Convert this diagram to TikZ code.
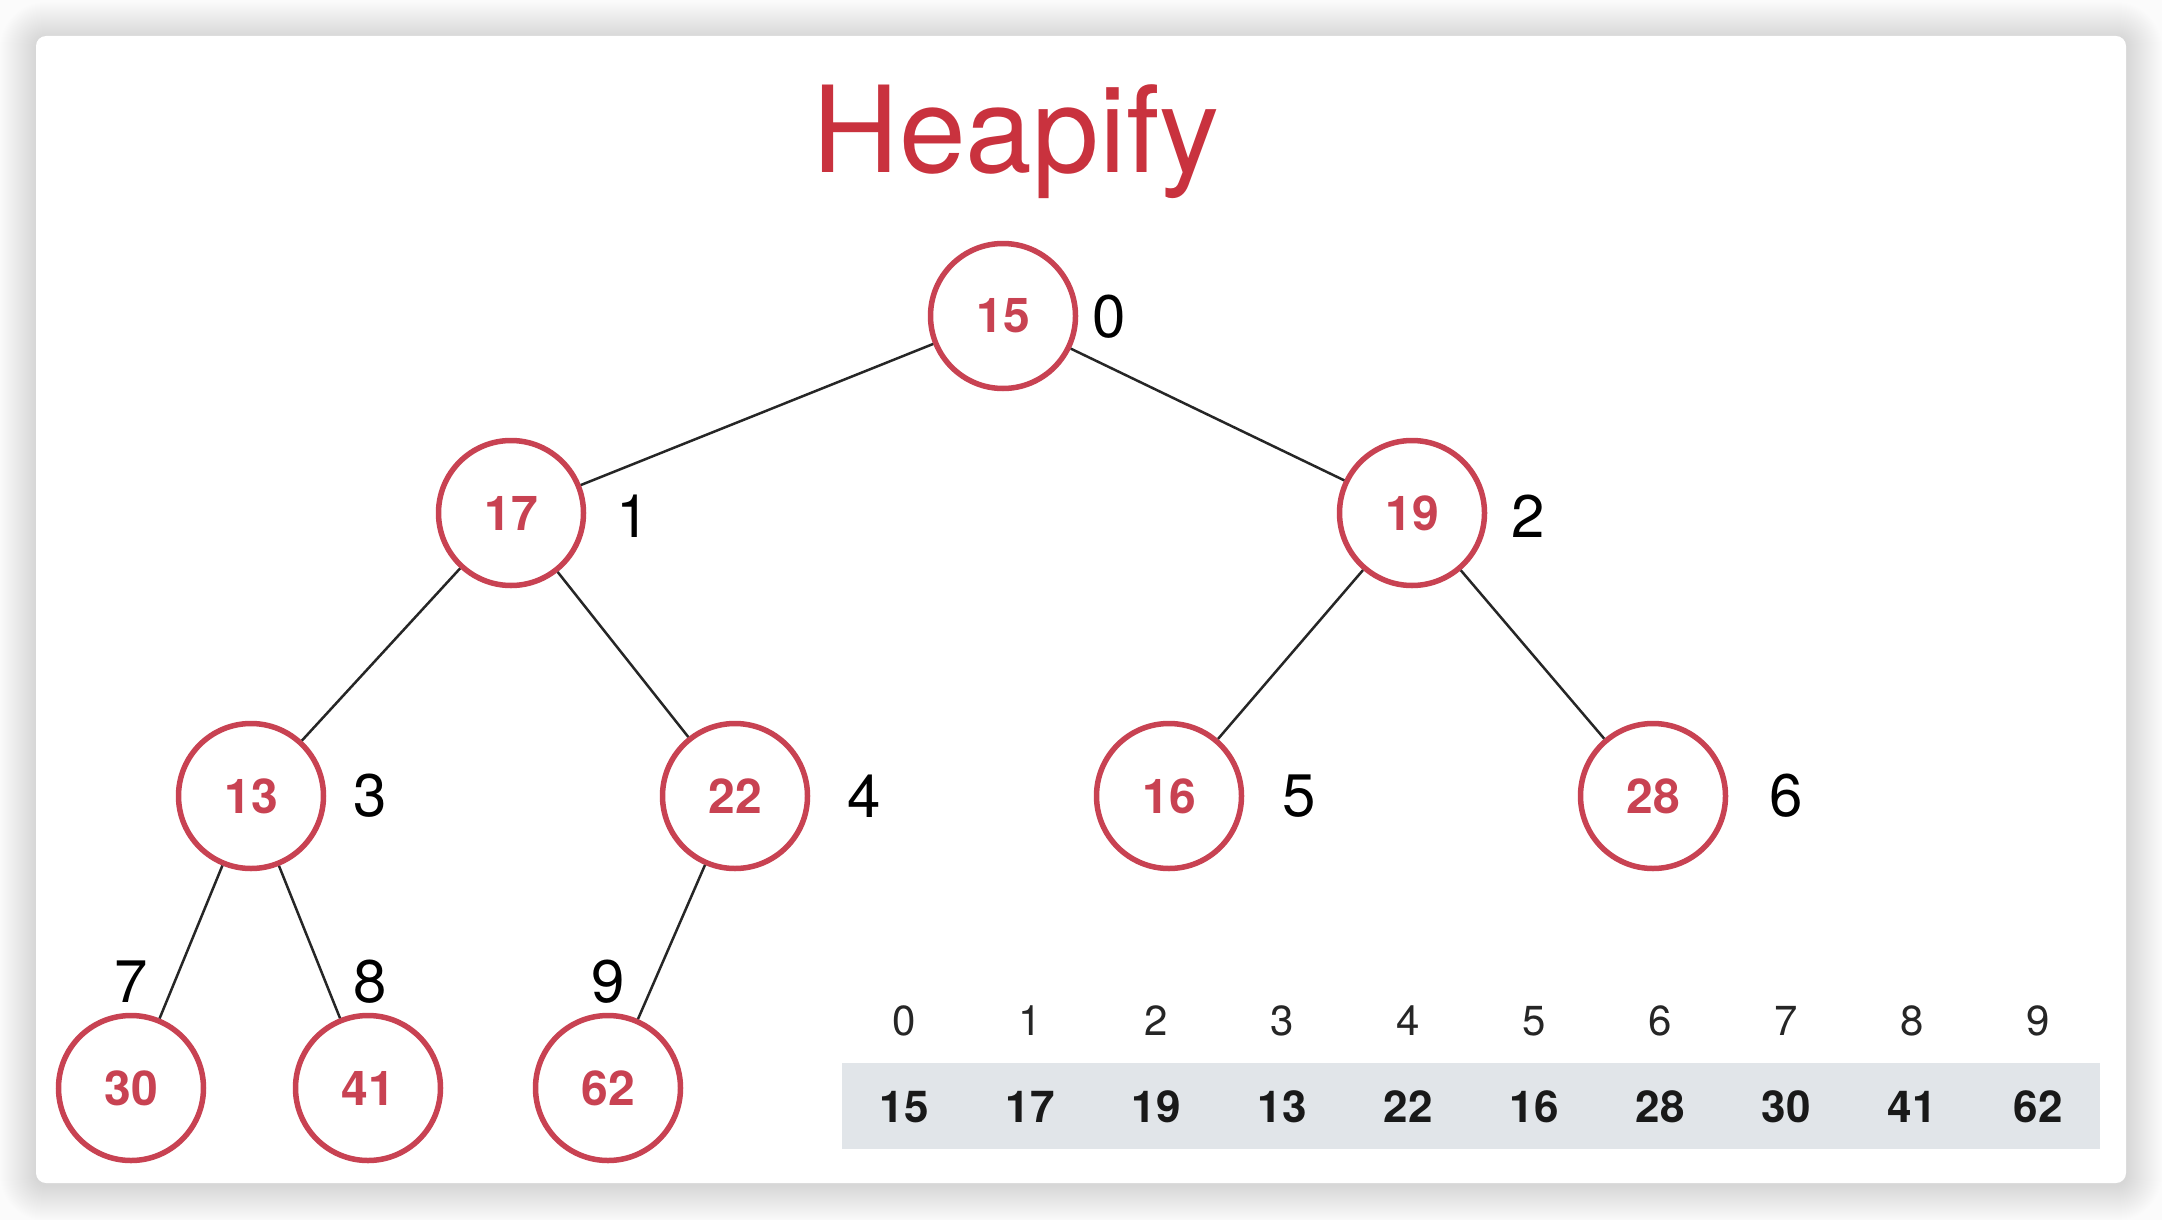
\documentclass[tikz,border=0pt]{standalone}
\usepackage{fontspec}
\setmainfont{TeX Gyre Heros}
\definecolor{hred}{RGB}{201,50,62}
\definecolor{cred}{RGB}{200,66,82}
\definecolor{band}{RGB}{225,229,233}
\definecolor{outer}{RGB}{251,251,251}
\begin{document}
\begin{tikzpicture}[x=1pt,y=-1pt,
  hnode/.style={circle, draw=cred, line width=5.5pt, fill=white, minimum size=145pt, inner sep=0pt,
    text=cred, font=\fontsize{48}{56}\selectfont\bfseries},
  idxlabel/.style={font=\fontsize{60}{72}\selectfont, text=black, inner sep=0pt},
  treeline/.style={line width=2.5pt, draw=black!85},
  arridx/.style={font=\fontsize{42}{50}\selectfont, text=black!85, inner sep=0pt},
  arrval/.style={font=\fontsize{44}{52}\selectfont\bfseries, text=black!90, inner sep=0pt},
]
% background and card
\fill[outer] (0,0) rectangle (2162,1220);
\useasboundingbox (0,0) rectangle (2162,1220);
\foreach \d in {36,35,...,1}{
  \fill[black, opacity=0.0056, rounded corners={10pt+\d pt}] (36-\d,36-\d+2) rectangle (2126+\d,1183+\d+2);
}
\fill[white, rounded corners=10pt] (36,36) rectangle (2126,1183);

% title
\node[font=\fontsize{120}{144}\selectfont, text=hred, anchor=base] (title) at (1016,172) {Heapify};

% tree nodes
\node[hnode] (n0) at (1003,316) {15};
\node[hnode] (n1) at (511,513) {17};
\node[hnode] (n2) at (1412,513) {19};
\node[hnode] (n3) at (251,796) {13};
\node[hnode] (n4) at (735,796) {22};
\node[hnode] (n5) at (1169,796) {16};
\node[hnode] (n6) at (1653,796) {28};
\node[hnode] (n7) at (131,1088) {30};
\node[hnode] (n8) at (368,1088) {41};
\node[hnode] (n9) at (608,1088) {62};

% connectors
\draw[treeline] (n0) -- (n1);
\draw[treeline] (n0) -- (n2);
\draw[treeline] (n1) -- (n3);
\draw[treeline] (n1) -- (n4);
\draw[treeline] (n2) -- (n5);
\draw[treeline] (n2) -- (n6);
\draw[treeline] (n3) -- (n7);
\draw[treeline] (n3) -- (n8);
\draw[treeline] (n4) -- (n9);

% index labels
\node[idxlabel] (l0) at (1109,317) {0};
\node[idxlabel] (l1) at (633,516) {1};
\node[idxlabel] (l2) at (1528,516) {2};
\node[idxlabel] (l3) at (370,796) {3};
\node[idxlabel] (l4) at (864,796) {4};
\node[idxlabel] (l5) at (1299,796) {5};
\node[idxlabel] (l6) at (1786,796) {6};
\node[idxlabel] (l7) at (131,982) {7};
\node[idxlabel] (l8) at (370,982) {8};
\node[idxlabel] (l9) at (608,982) {9};

% array
\node[fill=band, minimum width=1258pt, minimum height=86pt, inner sep=0pt] (arr) at (1470.5,1106) {};
\foreach \i/\v in {0/15,1/17,2/19,3/13,4/22,5/16,6/28,7/30,8/41,9/62}{
  \node[arridx] (ai\i) at (904+126*\i,1021) {\i};
  \node[arrval] (av\i) at (904+126*\i,1107) {\v};
}
\end{tikzpicture}
\end{document}
